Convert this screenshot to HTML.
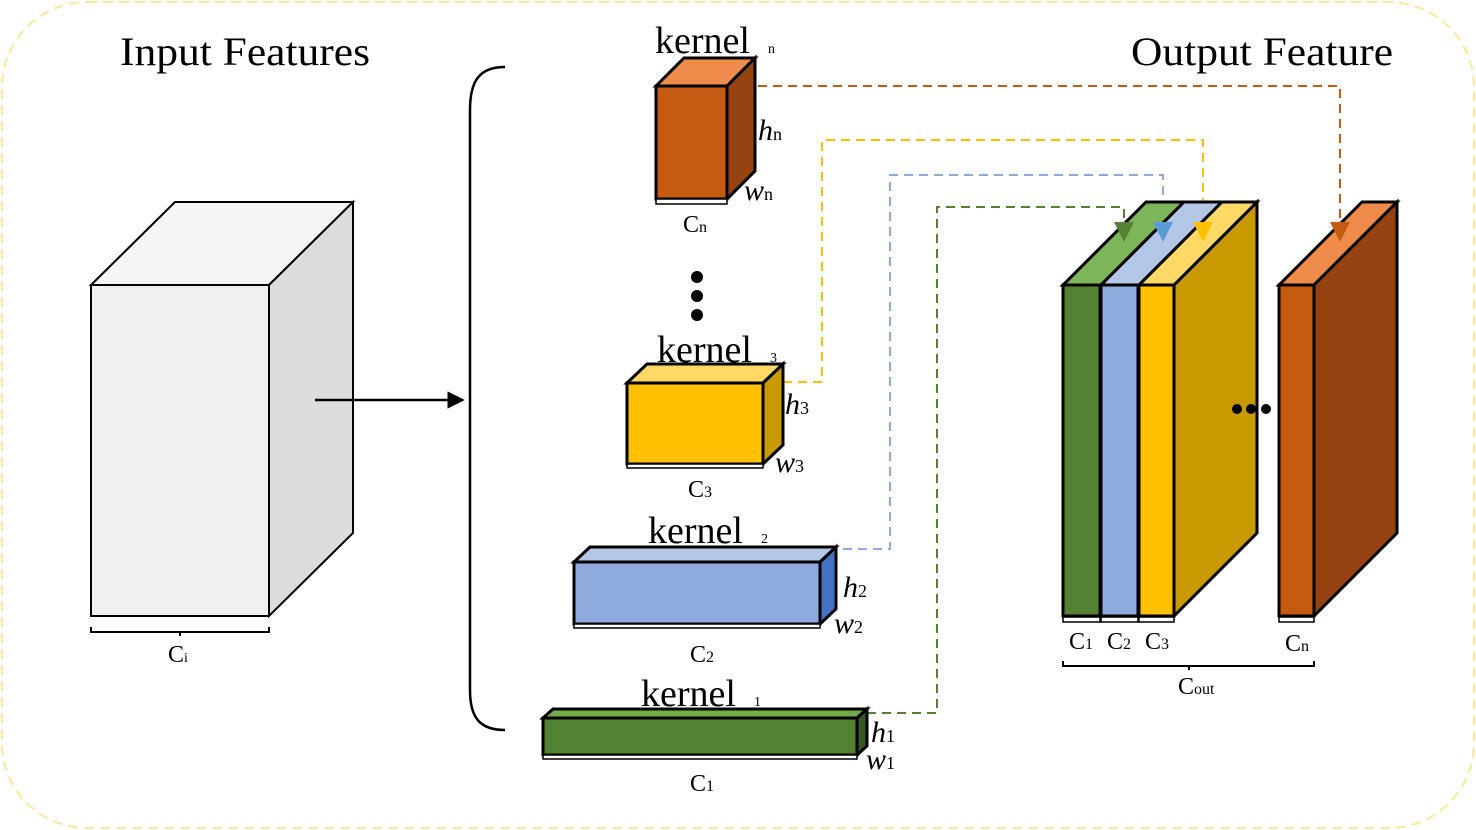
<!DOCTYPE html>
<html><head><meta charset="utf-8"><style>body{margin:0;background:#fff}svg{display:block}text{font-family:"Liberation Serif",serif;fill:#000}</style></head><body>
<svg width="1476" height="830" viewBox="0 0 1476 830" xmlns="http://www.w3.org/2000/svg">
<defs>
<marker id="ah" viewBox="0 0 10 10" refX="9" refY="5" markerWidth="7" markerHeight="7" orient="auto"><path d="M0,0L10,5L0,10z" fill="#000"/></marker>
</defs>
<rect x="2" y="2" width="1472" height="826" rx="85" fill="none" stroke="#FFE699" stroke-width="2" stroke-dasharray="10,6"/>
<text x="120" y="65" font-size="40" textLength="250" lengthAdjust="spacingAndGlyphs">Input Features</text>
<text x="1131" y="65" font-size="40" textLength="262" lengthAdjust="spacingAndGlyphs">Output Feature</text>
<g stroke="#000" stroke-width="2" stroke-linejoin="miter">
<polygon points="91,285 175,202 353,202 269,285" fill="#F5F5F5"/>
<polygon points="269,285 353,202 353,533 269,616" fill="#DCDCDC"/>
<rect x="91" y="285" width="178" height="331" fill="#F0F0F0"/>
</g>
<path d="M91,627v5h178v-5M180,632v4" fill="none" stroke="#000" stroke-width="2"/>
<text x="168" y="662" font-size="24">C<tspan font-size="14">i</tspan></text>
<line x1="315" y1="400" x2="463" y2="400" stroke="#000" stroke-width="2.5" marker-end="url(#ah)"/>
<path d="M505,67 C480,67 470,80 470,110 L470,690 C470,718 480,730 505,730" fill="none" stroke="#000" stroke-width="2.5"/>
<g fill="none" stroke-width="2" stroke-dasharray="9,6">
<path d="M758,86H1340V228" stroke="#C55A11"/>
<path d="M783,382H822V140H1203V228" stroke="#FFC000"/>
<path d="M843,549H890V175H1163V228" stroke="#8FAADC"/>
<path d="M867,713H937V207H1124V228" stroke="#548235"/>
</g>
<g stroke="#000" stroke-width="3">
<polygon points="656,86 684,58 755,58 727,86" fill="#F08C4B"/>
<polygon points="727,86 755,58 755,171 727,199" fill="#954310"/>
<rect x="656" y="86" width="71" height="113" fill="#C55A11"/>
<rect x="656" y="199" width="71" height="5" fill="#fff" stroke-width="1.5"/>
</g>
<text x="655" y="53" font-size="38">kernel<tspan font-size="14" dx="18">n</tspan></text>
<text x="758" y="140" font-size="30" font-style="italic">h<tspan font-size="18" font-style="normal">n</tspan></text>
<text x="744" y="200" font-size="30" font-style="italic">w<tspan font-size="18" font-style="normal">n</tspan></text>
<text x="683" y="232" font-size="24">C<tspan font-size="16">n</tspan></text>
<circle cx="697" cy="277" r="6" fill="#000"/><circle cx="697" cy="296" r="6" fill="#000"/><circle cx="697" cy="315" r="6" fill="#000"/>
<g stroke="#000" stroke-width="3">
<polygon points="627,383 647,364 783,364 763,383" fill="#FFD966"/>
<polygon points="763,383 783,364 783,445 763,464" fill="#C99A00"/>
<rect x="627" y="383" width="136" height="81" fill="#FFC000"/>
<rect x="627" y="464" width="136" height="4" fill="#fff" stroke-width="1.5"/>
</g>
<text x="657" y="362" font-size="38">kernel<tspan font-size="14" dx="18">3</tspan></text>
<text x="785" y="414" font-size="30" font-style="italic">h<tspan font-size="18" font-style="normal">3</tspan></text>
<text x="775" y="472" font-size="30" font-style="italic">w<tspan font-size="18" font-style="normal">3</tspan></text>
<text x="688" y="497" font-size="24">C<tspan font-size="16">3</tspan></text>
<g stroke="#000" stroke-width="3">
<polygon points="574,562 590,547 836,547 820,562" fill="#B4C7E7"/>
<polygon points="820,562 836,547 836,609 820,624" fill="#4472C4"/>
<rect x="574" y="562" width="246" height="62" fill="#8FAADC"/>
<rect x="574" y="624" width="246" height="4" fill="#fff" stroke-width="1.5"/>
</g>
<text x="648" y="543" font-size="38">kernel<tspan font-size="14" dx="18">2</tspan></text>
<text x="843" y="597" font-size="30" font-style="italic">h<tspan font-size="18" font-style="normal">2</tspan></text>
<text x="834" y="633" font-size="30" font-style="italic">w<tspan font-size="18" font-style="normal">2</tspan></text>
<text x="690" y="662" font-size="24">C<tspan font-size="16">2</tspan></text>
<g stroke="#000" stroke-width="3">
<polygon points="543,718 553,709 867,709 857,718" fill="#70AD47"/>
<polygon points="857,718 867,709 867,746 857,755" fill="#385723"/>
<rect x="543" y="718" width="314" height="37" fill="#548235"/>
<rect x="543" y="755" width="314" height="4" fill="#fff" stroke-width="1.5"/>
</g>
<text x="641" y="706" font-size="38">kernel<tspan font-size="14" dx="18">1</tspan></text>
<text x="871" y="742" font-size="30" font-style="italic">h<tspan font-size="18" font-style="normal">1</tspan></text>
<text x="866" y="769" font-size="30" font-style="italic">w<tspan font-size="18" font-style="normal">1</tspan></text>
<text x="690" y="791" font-size="24">C<tspan font-size="16">1</tspan></text>
<g stroke="#000" stroke-width="3">
<polygon points="1174,285 1257,202 1257,533 1174,616" fill="#C99A00"/>
<polygon points="1063,285 1146,202 1184,202 1101,285" fill="#7DB55A"/>
<polygon points="1101,285 1184,202 1222,202 1139,285" fill="#B4C7E7"/>
<polygon points="1139,285 1222,202 1257,202 1174,285" fill="#FFD966"/>
<rect x="1063" y="285" width="37" height="331" fill="#548235"/>
<rect x="1101" y="285" width="37" height="331" fill="#8FAADC"/>
<rect x="1139" y="285" width="35" height="331" fill="#FFC000"/>
<polygon points="1279,285 1362,202 1397,202 1314,285" fill="#F08C4B"/>
<polygon points="1314,285 1397,202 1397,533 1314,616" fill="#954310"/>
<rect x="1279" y="285" width="35" height="331" fill="#C55A11"/>
</g>
<g stroke="#000" stroke-width="1.5" fill="#fff">
<rect x="1063" y="617" width="37" height="5"/><rect x="1101" y="617" width="37" height="5"/><rect x="1139" y="617" width="35" height="5"/><rect x="1279" y="617" width="35" height="5"/>
</g>
<polygon points="1114,222 1134,222 1124,242" fill="#548235"/>
<polygon points="1153,222 1173,222 1163,242" fill="#5B9BD5"/>
<polygon points="1193,222 1213,222 1203,242" fill="#FFC000"/>
<polygon points="1330,222 1350,222 1340,242" fill="#C55A11"/>
<circle cx="1237" cy="409" r="5" fill="#000"/><circle cx="1251" cy="409" r="5" fill="#000"/><circle cx="1266" cy="409" r="5" fill="#000"/>
<text x="1069" y="649" font-size="24">C<tspan font-size="16">1</tspan></text>
<text x="1107" y="649" font-size="24">C<tspan font-size="16">2</tspan></text>
<text x="1145" y="649" font-size="24">C<tspan font-size="16">3</tspan></text>
<text x="1285" y="651" font-size="24">C<tspan font-size="16">n</tspan></text>
<path d="M1063,661v5h251v-5M1189,666v4" fill="none" stroke="#000" stroke-width="2"/>
<text x="1178" y="694" font-size="24">C<tspan font-size="16">out</tspan></text>
</svg>
</body></html>
